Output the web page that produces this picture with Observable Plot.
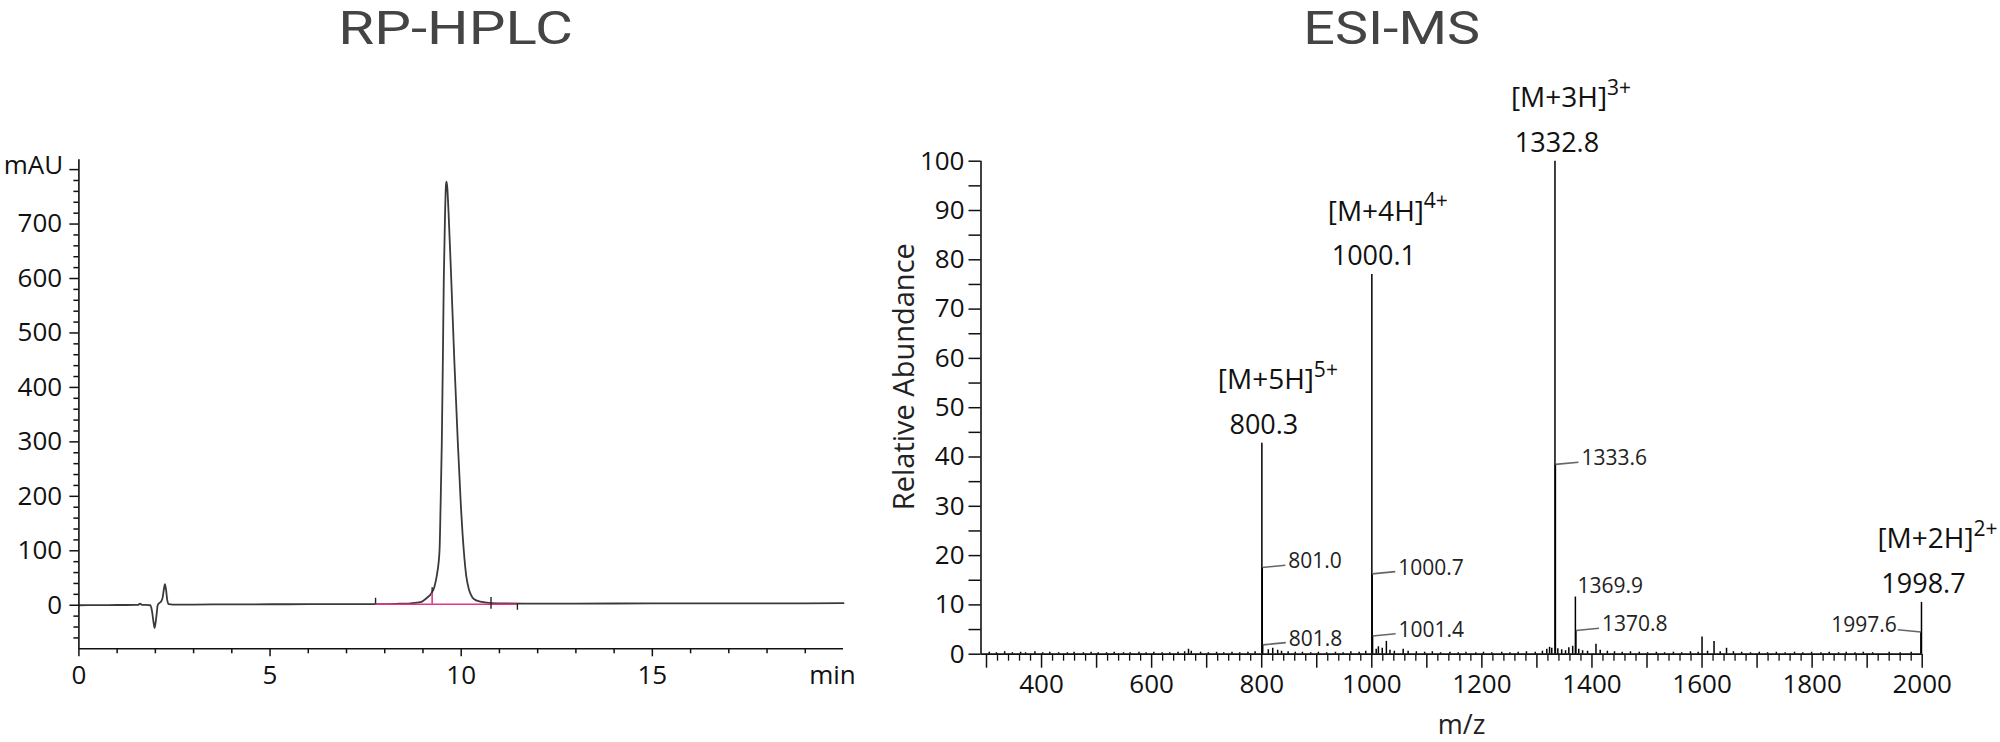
<!DOCTYPE html>
<html><head><meta charset="utf-8">
<script src="https://cdn.jsdelivr.net/npm/d3@7"></script>
<script src="https://cdn.jsdelivr.net/npm/@observablehq/plot@0.6"></script>
<style>
html,body{margin:0;padding:0;background:#fff;}
#wrap{position:relative;width:2000px;height:742px;overflow:hidden;font-family:"Open Sans",sans-serif;}
.title{position:absolute;top:0;font-family:Roboto,"Open Sans",sans-serif;font-size:47px;line-height:normal;color:#444;white-space:nowrap;transform-origin:50% 50%;}
#hplc{position:absolute;left:0;top:0;}
#ms{position:absolute;left:860px;top:0;}
</style></head><body>
<div id="wrap">
<div class="title" id="t1">RP-HPLC</div>
<div class="title" id="t2">ESI-MS</div>
<div id="hplc"></div><div id="ms"></div>
</div>
<script>
// ---------- RP-HPLC chromatogram (time in min, absorbance in mAU) ----------
const hplcTime = [0, 0.5, 1.0, 1.5, 1.55, 1.6, 1.65, 1.75, 1.87, 1.91, 1.95, 1.98, 2.01, 2.04, 2.06, 2.1, 2.15, 2.19, 2.22, 2.25, 2.28, 2.31, 2.35, 2.45, 3, 4, 5, 6, 7, 7.8, 8.3, 8.67, 8.93, 9.11, 9.22, 9.3, 9.37, 9.433, 9.46, 9.493, 9.52, 9.545, 9.575, 9.6, 9.615, 9.635, 9.67, 9.739, 9.82, 9.911, 9.99, 10.068, 10.13, 10.199, 10.25, 10.33, 10.5, 10.77, 11.2, 12, 14, 16, 18, 20];
const hplcMau  = [0, 0.2, 0.4, 0.5, 0.6, 3, 0.7, 0.6, 0, -10, -30, -42, -30, -12, 0, 4, 7, 14, 28, 38.6, 28, 10, 2, 1.2, 1.3, 1.6, 1.8, 1.9, 2, 2.1, 2.6, 3.6, 5.5, 14, 22, 34, 58, 100, 180, 300, 450, 600, 710, 770, 778, 768, 720, 600, 450, 300, 185, 100, 55, 30, 20, 11.5, 6.5, 4, 3.2, 3, 3.2, 3.4, 3.5, 3.7];
// integration (pink baseline + drop line) and event markers
const integStart = 7.76, integEnd = 11.47, integLevel = 1.8;
const dropTime = 9.24, dropTop = 22;
const markerTime = [7.76, 9.24, 10.78, 11.47];
const markerLow  = [1.8, 22, -7.4, -9.2];
const markerHigh = [12.8, 32, 14, 1.8];
// axis ticks
const hplcYLabels = [0, 100, 200, 300, 400, 500, 600, 700, 800];
const hplcXLabels = [0, 5, 10, 15];

// ---------- ESI-MS spectrum (m/z, relative abundance %) ----------
const mainMz = [800.3, 1000.1, 1332.8, 1998.7];
const mainAb = [42.8, 77.0, 100, 10.5];
const mainIon = ["[M+5H]", "[M+4H]", "[M+3H]", "[M+2H]"];
const mainCharge = ["5+", "4+", "3+", "2+"];
const isoMz = [801.0, 801.8, 1000.7, 1001.4, 1333.6, 1370.8, 1997.6];
const isoAb = [17.6, 1.9, 16.3, 3.7, 38.5, 4.8, 4.5];
const isoSide = ["right", "right", "right", "right", "right", "right", "left"];
const tagMz = [1369.9];
const tagAb = [11.6];
const minorMz = [305, 318, 333, 347, 362, 371, 388, 402, 415, 431, 447, 459, 476, 490, 503, 518, 532, 549, 561, 577, 590, 604, 619, 633, 648, 660, 667, 672, 689, 703, 718, 731, 746, 760, 775, 788, 812, 820, 829, 836, 848, 861, 874, 889, 903, 918, 934, 948, 962, 977, 989, 1008, 1012, 1019, 1026.5, 1033, 1041, 1057, 1066, 1081, 1096, 1110, 1125, 1142, 1157, 1171, 1189, 1203, 1218, 1236, 1251, 1266, 1281, 1297, 1310, 1318, 1323, 1327, 1338, 1345, 1352, 1358, 1365, 1376, 1383, 1392, 1407.3, 1415, 1428, 1441, 1455, 1470, 1486, 1501, 1517, 1532, 1548, 1563, 1579, 1593, 1600, 1610, 1621.8, 1633, 1644.5, 1657, 1672, 1688, 1704, 1719, 1735, 1751, 1768, 1783, 1799, 1816, 1831, 1848, 1862, 1878, 1893, 1910, 1940, 1960, 1980];
const minorAb = [0.4, 0.3, 0.5, 0.3, 0.4, 0.3, 0.5, 0.3, 0.4, 0.3, 0.3, 0.4, 0.3, 0.4, 0.3, 0.3, 0.4, 0.3, 0.3, 0.4, 0.3, 0.4, 0.3, 0.3, 0.4, 0.5, 1.0, 0.6, 0.4, 0.3, 0.4, 0.3, 0.4, 0.3, 0.4, 0.5, 0.9, 1.2, 0.8, 0.6, 0.5, 0.4, 0.4, 0.3, 0.4, 0.3, 0.4, 0.3, 0.5, 0.4, 0.6, 1.0, 1.5, 1.2, 2.6, 0.8, 0.6, 1.0, 0.6, 0.5, 0.4, 0.5, 0.3, 0.4, 0.3, 0.4, 0.3, 0.4, 0.3, 0.4, 0.3, 0.4, 0.5, 0.4, 0.6, 1.0, 1.4, 1.2, 1.1, 0.9, 0.7, 1.3, 1.6, 1.0, 0.7, 0.6, 2.0, 0.8, 0.6, 0.5, 0.4, 0.5, 0.4, 0.3, 0.4, 0.3, 0.4, 0.3, 0.5, 0.4, 3.5, 0.6, 2.6, 0.5, 1.2, 0.5, 0.4, 0.3, 0.4, 0.3, 0.4, 0.3, 0.4, 0.3, 0.4, 0.3, 0.4, 0.3, 0.4, 0.3, 0.4, 0.3, 0.4, 0.3, 0.4];
const msXLabels = [400, 600, 800, 1000, 1200, 1400, 1600, 1800, 2000];
const msYLabels = [0, 10, 20, 30, 40, 50, 60, 70, 80, 90, 100];

// ---------- titles: centre + width as in the figure ----------
function placeTitle(el, cx, w) {
  const natural = el.getBoundingClientRect().width;
  el.style.left = (cx - natural / 2) + "px";
  el.style.transform = `scaleX(${w / natural})`;
}
placeTitle(document.getElementById("t1"), 455.3, 234.6);
placeTitle(document.getElementById("t2"), 1391.6, 176.7);

// ---------- build tables ----------
const hplc = hplcTime.map((t, i) => ({t, v: hplcMau[i]}));
const markers = markerTime.map((t, i) => ({t, lo: markerLow[i], hi: markerHigh[i]}));
const main = mainMz.map((mz, i) => ({mz, ab: mainAb[i], ion: mainIon[i], z: mainCharge[i]}));
const iso = isoMz.map((mz, i) => ({mz, ab: isoAb[i], side: isoSide[i]}));
const tags = tagMz.map((mz, i) => ({mz, ab: tagAb[i]}));
const spec = [...main, ...iso, ...tags, ...minorMz.map((mz, i) => ({mz, ab: minorAb[i]}))];

const FONT = "Open Sans";
const PINK = "#e5328a";
const style = {fontFamily: FONT, fontSize: "26px", color: "#111", background: "transparent", overflow: "visible"};

// ---------- left: RP-HPLC ----------
const hx = [0, 20], hy = [-80, 818];
const hMinorY = d3.range(-60, 800, 20).filter(d => d % 100 !== 0);
const hMinorX = d3.range(1, 20, 1).filter(d => d % 5 !== 0);
const left = Plot.plot({
  width: 860, height: 742,
  marginLeft: 78.4, marginRight: 17, marginTop: 159.3, marginBottom: 93.7,
  x: {domain: hx, label: null},
  y: {domain: hy, label: null},
  style,
  marks: [
    Plot.line(hplc, {x: "t", y: "v", curve: "monotone-x", stroke: "#3a3a3a", strokeWidth: 1.8}),
    Plot.ruleY([integLevel], {x1: integStart, x2: integEnd, stroke: PINK, strokeWidth: 1.6}),
    Plot.ruleX([dropTime], {y1: integLevel, y2: dropTop, stroke: PINK, strokeWidth: 1.6}),
    Plot.ruleX(markers, {x: "t", y1: "lo", y2: "hi", stroke: "#222", strokeWidth: 1.4}),
    Plot.ruleX([hx[0]], {y1: hy[0], y2: hy[1], stroke: "#111", strokeWidth: 1.6}),
    Plot.ruleY([hy[0]], {x1: hx[0], x2: hx[1], stroke: "#111", strokeWidth: 1.6}),
    Plot.axisY({ticks: hplcYLabels, tickSize: 9, tickPadding: 7.7, strokeWidth: 1.5, fontSize: 26, label: null,
      tickFormat: d => d === 800 ? "" : String(d)}),
    Plot.axisY({ticks: hMinorY, tickSize: 5, strokeWidth: 1.5, tickFormat: () => "", label: null}),
    Plot.axisX({ticks: hplcXLabels, tickSize: 8, tickPadding: 8.7, strokeWidth: 1.5, fontSize: 26, label: null,
      tickFormat: d => String(d)}),
    Plot.axisX({ticks: hMinorX, tickSize: 5, strokeWidth: 1.5, tickFormat: () => "", label: null}),
    Plot.text(["mAU"], {x: hx[0], y: 800, text: d => d, textAnchor: "end", lineAnchor: "middle", dx: -15.7, dy: -4, fontSize: 26, fill: "#111"}),
    Plot.text(["min"], {x: hx[1], y: hy[0], text: d => d, textAnchor: "middle", lineAnchor: "top", dx: -11, dy: 16.7, fontSize: 26, fill: "#111"})
  ]
});
document.getElementById("hplc").appendChild(left);

// ---------- right: ESI-MS ----------
const mx = [290, 2000], my = [0, 100];
const mYMinor = d3.range(5, 100, 10);
const mXMid = d3.range(300, 2000, 100).filter(d => d % 200 !== 0);
const mXMinor = d3.range(300, 2000, 20).filter(d => d % 100 !== 0);
const LEAD_MZ = 42, LEAD_AB = 0.45;
const right = Plot.plot({
  width: 1140, height: 742,
  marginLeft: 120.5, marginRight: 78.3, marginTop: 160.7, marginBottom: 88.3,
  x: {domain: mx, label: null},
  y: {domain: my, label: null},
  style,
  marks: [
    Plot.ruleX(spec, {x: "mz", y1: 0, y2: "ab", stroke: "#000", strokeWidth: 1.5}),
    Plot.ruleX([mx[0]], {y1: my[0], y2: my[1], stroke: "#111", strokeWidth: 1.6}),
    Plot.ruleY([my[0]], {x1: mx[0], x2: mx[1], stroke: "#111", strokeWidth: 1.8}),
    Plot.axisY({ticks: msYLabels, tickSize: 12, tickPadding: 4.5, strokeWidth: 1.5, fontSize: 26, label: null,
      tickFormat: d => String(d)}),
    Plot.axisY({ticks: mYMinor, tickSize: 12, strokeWidth: 1.5, tickFormat: () => "", label: null}),
    Plot.axisX({ticks: msXLabels, tickSize: 14, tickPadding: 6, strokeWidth: 1.5, fontSize: 26, label: null,
      tickFormat: d => String(d)}),
    Plot.axisX({ticks: mXMid, tickSize: 14, strokeWidth: 1.5, tickFormat: () => "", label: null}),
    Plot.axisX({ticks: mXMinor, tickSize: 7, strokeWidth: 1.3, tickFormat: () => "", label: null}),
    // main peak annotations
    Plot.text(main, {x: "mz", y: "ab", text: d => d.mz.toFixed(1), textAnchor: "middle", lineAnchor: "middle", dx: 2, dy: -18, fontSize: 27, fill: "#111"}),
    Plot.text(main, {x: "mz", y: "ab", text: "ion", textAnchor: "middle", lineAnchor: "middle", dx: 4, dy: -63, fontSize: 28, fill: "#111"}),
    Plot.text(main, {x: "mz", y: "ab", text: "z", textAnchor: "start", lineAnchor: "middle", dx: 52, dy: -73, fontSize: 21, fill: "#111"}),
    // isotope leaders + labels
    Plot.link(iso, {x1: "mz", y1: "ab", x2: d => d.mz + (d.side === "right" ? LEAD_MZ : -LEAD_MZ), y2: d => d.ab + LEAD_AB, stroke: "#666", strokeWidth: 1.6}),
    Plot.text(iso.filter(d => d.side === "right"), {x: "mz", y: "ab", text: d => d.mz.toFixed(1), textAnchor: "start", lineAnchor: "middle", dx: 26, dy: -6, fontSize: 21, fill: "#222"}),
    Plot.text(iso.filter(d => d.side === "left"), {x: "mz", y: "ab", text: d => d.mz.toFixed(1), textAnchor: "end", lineAnchor: "middle", dx: -24, dy: -7, fontSize: 21, fill: "#222"}),
    Plot.text(tags, {x: "mz", y: "ab", text: d => d.mz.toFixed(1), textAnchor: "start", lineAnchor: "middle", dx: 2, dy: -11, fontSize: 21, fill: "#222"}),
    // axis titles
    Plot.text(["Relative Abundance"], {frameAnchor: "left", text: d => d, rotate: -90, textAnchor: "middle", lineAnchor: "middle", dx: -76.5, dy: -31, fontSize: 29, fill: "#222"}),
    Plot.text(["m/z"], {frameAnchor: "bottom", text: d => d, textAnchor: "middle", lineAnchor: "middle", dx: 10, dy: 71, fontSize: 27, fill: "#222"})
  ]
});
document.getElementById("ms").appendChild(right);
</script>
</body></html>
